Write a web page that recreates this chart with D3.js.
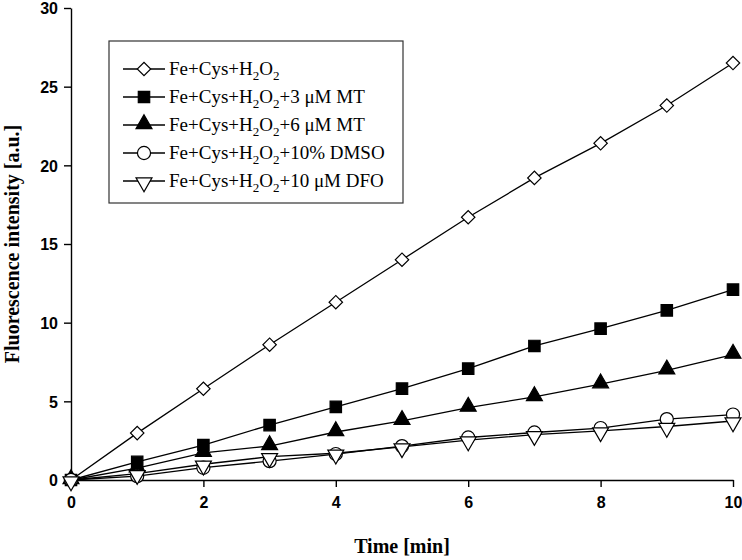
<!DOCTYPE html>
<html>
<head>
<meta charset="utf-8">
<script src="https://cdn.jsdelivr.net/npm/d3@7"></script>
<style>
  body { margin: 0; background: #fff; }
  svg { display: block; }
</style>
</head>
<body>
<svg width="742" height="560"></svg>
<script>
const width = 742;
const height = 560;

// time points (min)
const times = [0, 1, 2, 3, 4, 5, 6, 7, 8, 9, 10];

// series values
const valBase = [0, 2.98, 5.8, 8.6, 11.3, 14.0, 16.7, 19.2, 21.4, 23.8, 26.5];
const valMT3  = [0, 1.15, 2.22, 3.49, 4.65, 5.81, 7.08, 8.52, 9.62, 10.78, 12.1];
const valMT6  = [0, 0.75, 1.73, 2.16, 3.05, 3.76, 4.6, 5.28, 6.09, 6.97, 7.97];
const valDMSO = [0, 0.25, 0.78, 1.2, 1.65, 2.15, 2.7, 3.02, 3.3, 3.87, 4.16];
const valDFO  = [0, 0.4, 1.0, 1.48, 1.7, 2.1, 2.54, 2.88, 3.12, 3.4, 3.75];

// legend labels (parts with subscripts)
const legendLabels = [
  [['Fe+Cys+H'], ['2', 'sub'], ['O'], ['2', 'sub']],
  [['Fe+Cys+H'], ['2', 'sub'], ['O'], ['2', 'sub'], ['+3 \u03bcM MT']],
  [['Fe+Cys+H'], ['2', 'sub'], ['O'], ['2', 'sub'], ['+6 \u03bcM MT']],
  [['Fe+Cys+H'], ['2', 'sub'], ['O'], ['2', 'sub'], ['+10% DMSO']],
  [['Fe+Cys+H'], ['2', 'sub'], ['O'], ['2', 'sub'], ['+10 \u03bcM DFO']]
];

const xTicks = [0, 2, 4, 6, 8, 10];
const yTicks = [0, 5, 10, 15, 20, 25, 30];

const allValues = [valBase, valMT3, valMT6, valDMSO, valDFO];
const markers = [
  { type: d3.symbolSquare, size: 90, fill: '#fff', rot: 45, dy: 0 },
  { type: d3.symbolSquare, size: 130, fill: '#000', rot: 0, dy: 0 },
  { type: d3.symbolTriangle, size: 110, fill: '#000', rot: 0, dy: -1 },
  { type: d3.symbolCircle, size: 135, fill: '#fff', rot: 0, dy: 0 },
  { type: d3.symbolTriangle, size: 110, fill: '#fff', rot: 180, dy: 1.5 }
];

const margin = { left: 71, right: 9, top: 8, bottom: 80 };

const x = d3.scaleLinear().domain([0, 10]).range([margin.left, width - margin.right]);
const y = d3.scaleLinear().domain([0, 30]).range([height - margin.bottom, margin.top]);

const svg = d3.select('svg');

// axes
const xAxis = svg.append('g')
  .attr('transform', `translate(0,${y(0)})`)
  .call(d3.axisBottom(x).tickValues(xTicks).tickSize(7).tickSizeOuter(0).tickPadding(10));
const yAxis = svg.append('g')
  .attr('transform', `translate(${x(0)},0)`)
  .call(d3.axisLeft(y).tickValues(yTicks).tickSize(7).tickSizeOuter(0).tickPadding(6));

[xAxis, yAxis].forEach(a => {
  a.select('.domain').attr('stroke', '#000').attr('stroke-width', 1.4);
  a.selectAll('.tick line').attr('stroke', '#000').attr('stroke-width', 1.4);
  a.selectAll('.tick text')
    .attr('fill', '#000')
    .style('font-family', '"Liberation Sans", Arial, sans-serif')
    .style('font-weight', 'bold')
    .style('font-size', '16px');
});
yAxis.selectAll('.tick text').attr('dy', '0.36em');

// axis titles
svg.append('text')
  .attr('x', (x(0) + x(10)) / 2)
  .attr('y', 553)
  .attr('text-anchor', 'middle')
  .style('font-family', '"Liberation Serif", "Times New Roman", serif')
  .style('font-weight', 'bold')
  .style('font-size', '20px')
  .text('Time [min]');

svg.append('text')
  .attr('transform', `translate(19,${(y(0) + y(30)) / 2}) rotate(-90)`)
  .attr('text-anchor', 'middle')
  .style('font-family', '"Liberation Serif", "Times New Roman", serif')
  .style('font-weight', 'bold')
  .style('font-size', '20px')
  .text('Fluorescence intensity [a.u.]');

// lines
const line = d3.line()
  .x((d, i) => x(times[i]))
  .y(d => y(d));

const plot = svg.append('g');

allValues.forEach(vals => {
  plot.append('path')
    .datum(vals)
    .attr('d', line)
    .attr('fill', 'none')
    .attr('stroke', '#000')
    .attr('stroke-width', 1.3);
});

allValues.forEach((vals, si) => {
  const m = markers[si];
  plot.append('g')
    .selectAll('path')
    .data(vals)
    .join('path')
    .attr('d', d3.symbol().type(m.type).size(m.size))
    .attr('transform', (d, i) => `translate(${x(times[i])},${y(d) + m.dy}) rotate(${m.rot})`)
    .attr('fill', m.fill)
    .attr('stroke', '#000')
    .attr('stroke-width', 1.2);
});

// legend
const legend = svg.append('g');
legend.append('rect')
  .attr('x', 109).attr('y', 41)
  .attr('width', 294).attr('height', 162)
  .attr('fill', '#fff')
  .attr('stroke', '#333')
  .attr('stroke-width', 1.2);

legendLabels.forEach((parts, i) => {
  const ly = 69 + i * 28;
  const m = markers[i];
  legend.append('line')
    .attr('x1', 123).attr('x2', 165)
    .attr('y1', ly).attr('y2', ly)
    .attr('stroke', '#000').attr('stroke-width', 1.3);
  legend.append('path')
    .attr('d', d3.symbol().type(m.type).size(m.size))
    .attr('transform', `translate(144,${ly + m.dy}) rotate(${m.rot})`)
    .attr('fill', m.fill)
    .attr('stroke', '#000')
    .attr('stroke-width', 1.2);
  const t = legend.append('text')
    .attr('x', 169).attr('y', ly + 6)
    .style('font-family', '"Liberation Serif", "Times New Roman", serif')
    .style('font-size', '19px');
  let shifted = false;
  parts.forEach(p => {
    const ts = t.append('tspan').text(p[0]);
    if (p[1] === 'sub') {
      ts.attr('dy', shifted ? 0 : 5).style('font-size', '13px');
      shifted = true;
    } else if (shifted) {
      ts.attr('dy', -5);
      shifted = false;
    }
  });
});
</script>
</body>
</html>
